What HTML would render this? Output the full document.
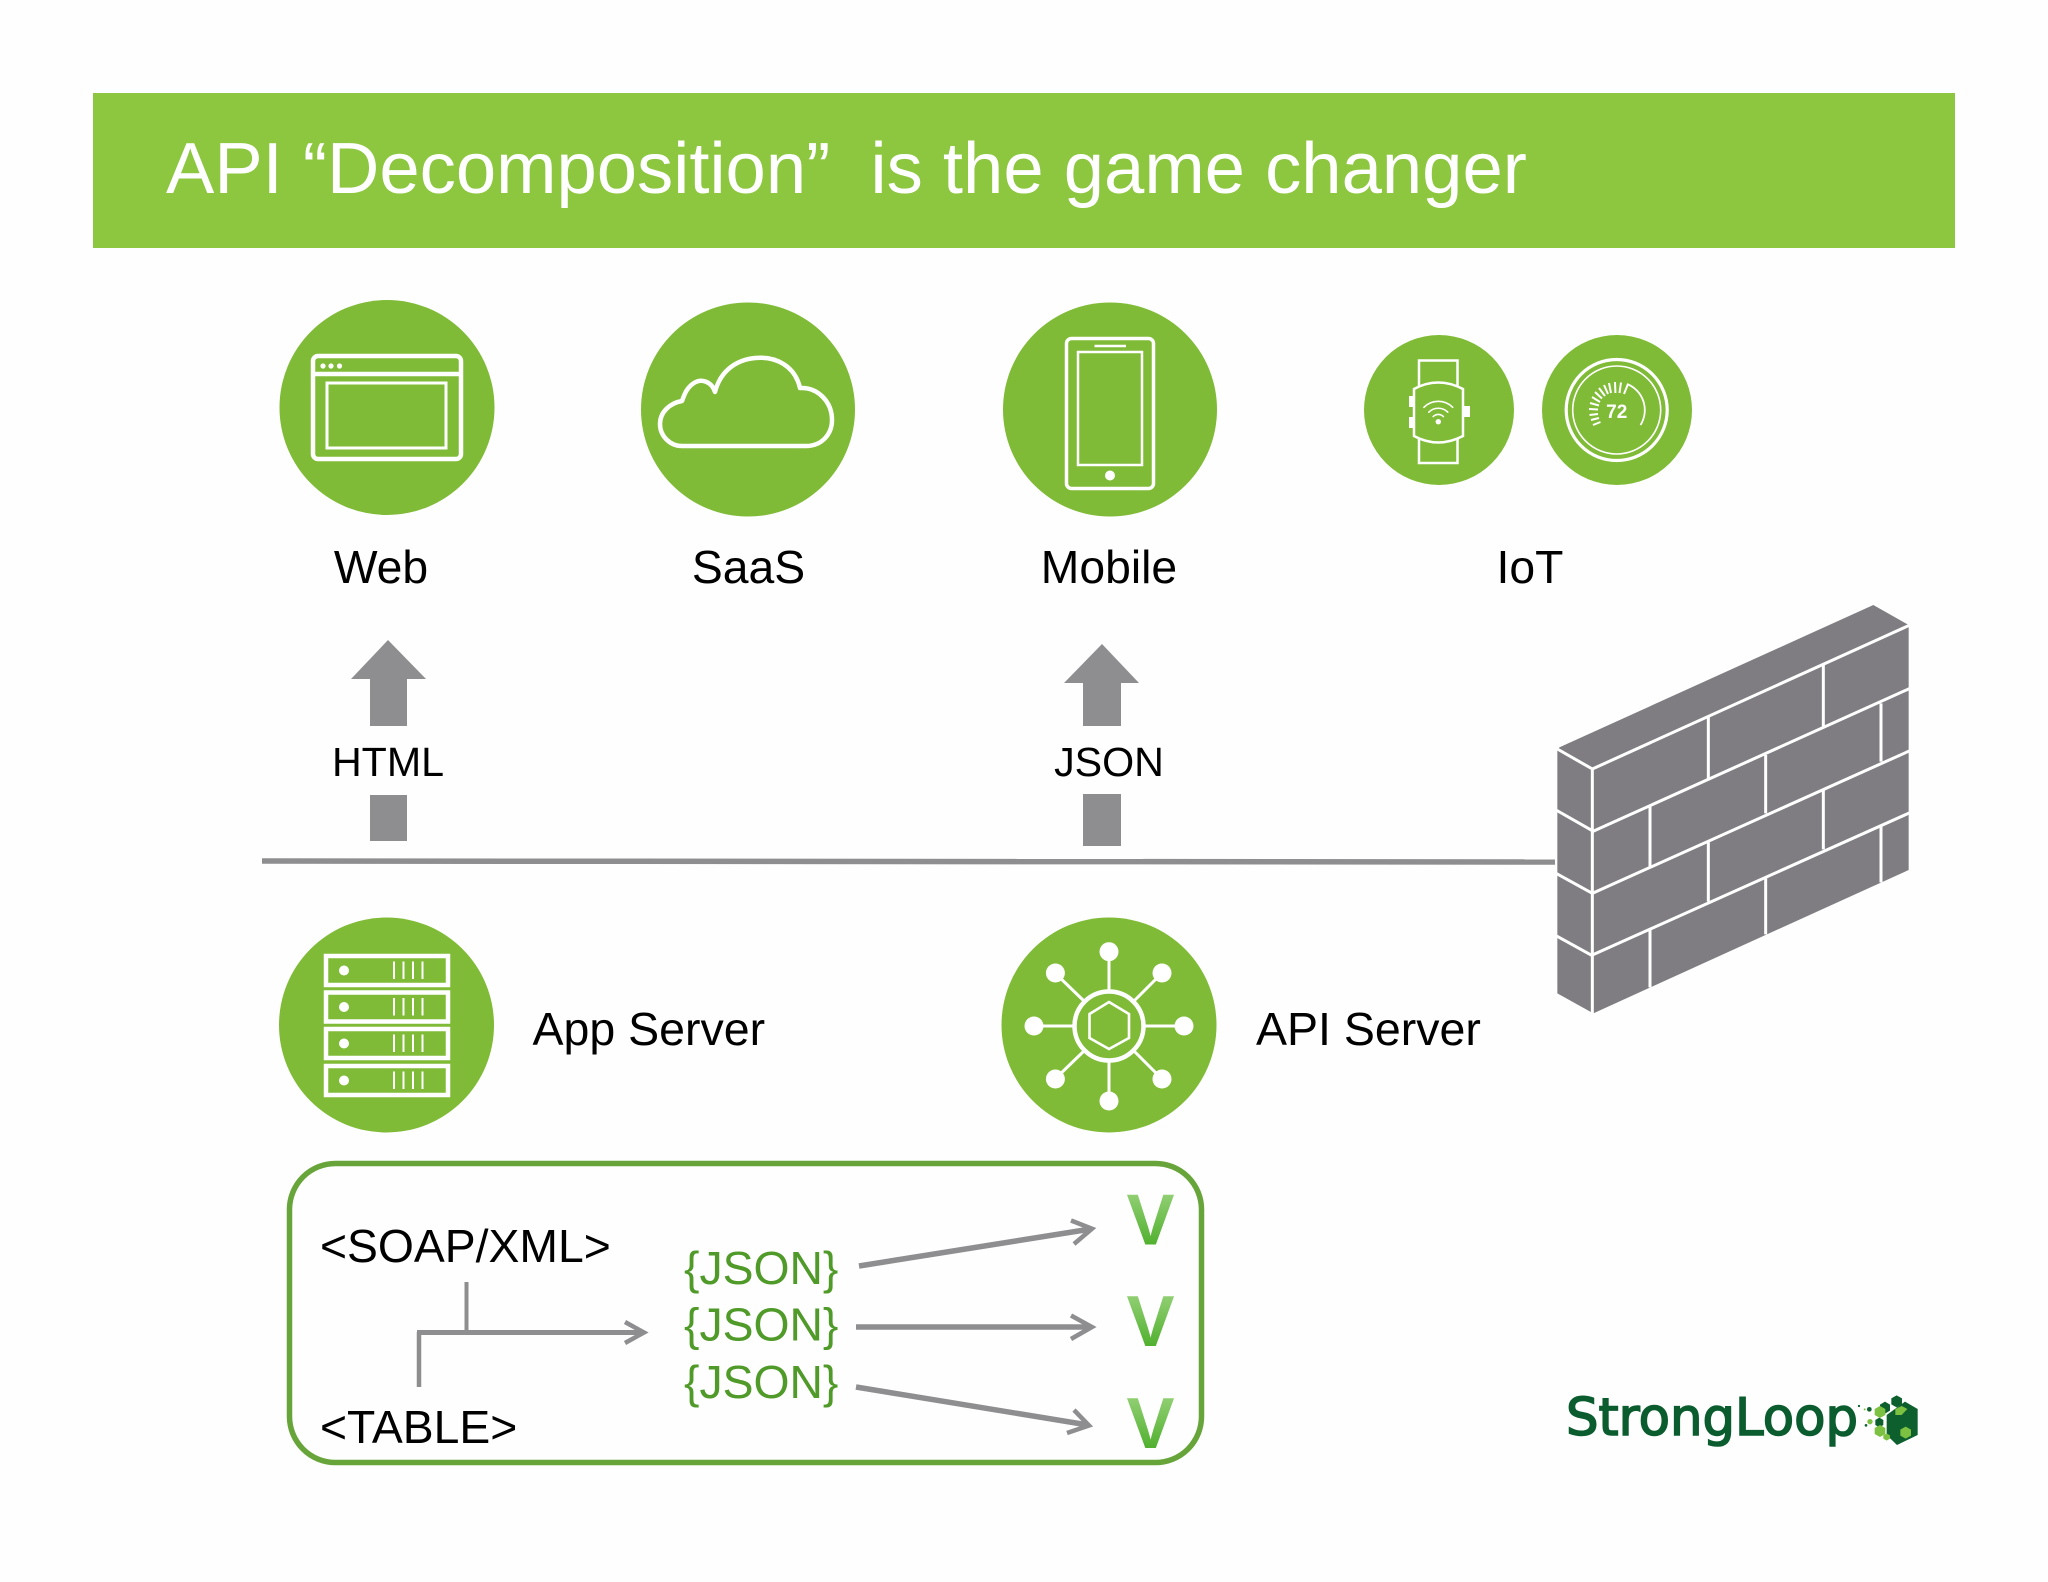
<!DOCTYPE html>
<html lang="en">
<head>
<meta charset="utf-8">
<title>API Decomposition</title>
<style>
html,body{margin:0;padding:0;background:#fefefe;width:2048px;height:1582px;overflow:hidden}
svg{display:block}
text{font-family:"Liberation Sans",Arial,sans-serif;white-space:pre}
</style>
</head>
<body>
<svg xmlns="http://www.w3.org/2000/svg" width="2048" height="1582" viewBox="0 0 2048 1582">
<defs>
<linearGradient id="vg" x1="0" y1="0" x2="0" y2="1">
<stop offset="0.15" stop-color="#93d075"/>
<stop offset="0.85" stop-color="#4cae2a"/>
</linearGradient>
</defs>
<rect width="2048" height="1582" fill="#fefefe"/>

<!-- banner -->
<rect x="93" y="93" width="1862" height="155" fill="#8dc63f"/>
<text x="166" y="193" font-size="72.45" fill="#fff">API “Decomposition”  is the game changer</text>

<!-- top circles -->
<g fill="#7fbb36">
<circle cx="387" cy="407.5" r="107.5"/>
<circle cx="748" cy="409.5" r="107"/>
<circle cx="1110" cy="409.5" r="107"/>
<circle cx="1439" cy="410" r="75"/>
<circle cx="1617" cy="410" r="75"/>
<circle cx="386.5" cy="1025" r="107.5"/>
<circle cx="1109" cy="1025" r="107.5"/>
</g>

<!-- web icon -->
<g fill="none" stroke="#fff" stroke-width="4.5">
<rect x="313" y="356" width="148" height="103" rx="5"/>
<line x1="313" y1="374" x2="461" y2="374"/>
<rect x="327" y="383" width="119" height="65" stroke-width="3"/>
</g>
<g fill="#fff"><circle cx="323" cy="366" r="2.6"/><circle cx="331" cy="366" r="2.6"/><circle cx="339.5" cy="366" r="2.6"/></g>

<!-- cloud -->
<path d="M682 446 H806 C822 446 832 434 832 420 C832 402 818 387 800 388 C795 366 776 356 755 358 C735 360 720 372 715 392 C712 382 702 378 694 383 C686 388 684 396 682 401 C670 403 660 412 660 424 C660 436 670 446 682 446 Z" fill="none" stroke="#fff" stroke-width="4.5" stroke-linejoin="round"/>

<!-- mobile -->
<g fill="none" stroke="#fff">
<rect x="1066.5" y="338.5" width="87" height="150" rx="5" stroke-width="3.5"/>
<rect x="1078" y="352" width="64" height="113" stroke-width="2.5"/>
<line x1="1094.5" y1="346" x2="1126" y2="346" stroke-width="2.5"/>
</g>
<circle cx="1110" cy="475.5" r="5" fill="#fff"/>

<!-- watch -->
<g fill="none" stroke="#fff" stroke-width="2.5">
<rect x="1419" y="360.5" width="38.5" height="102.5"/>
<path d="M1414 389 Q1438 376 1463 389 V436 Q1438 449 1414 436 Z" fill="#7fbb36"/>
</g>
<g fill="#fff">
<rect x="1409" y="396" width="5" height="11"/>
<rect x="1409" y="417" width="5" height="11"/>
<rect x="1463" y="406" width="7" height="11"/>
<circle cx="1438.3" cy="421.7" r="2.7"/>
</g>
<g fill="none" stroke="#fff" stroke-width="1.6" stroke-linecap="round">
<path d="M1423.9 407.3 A20.3 20.3 0 0 1 1452.7 407.3"/>
<path d="M1428.8 412.2 A13.4 13.4 0 0 1 1447.8 412.2"/>
<path d="M1433.2 416.6 A7.2 7.2 0 0 1 1443.4 416.6"/>
</g>

<!-- thermostat -->
<g fill="none" stroke="#fff">
<circle cx="1616.7" cy="410" r="50.5" stroke-width="3.2"/>
<circle cx="1616.7" cy="410" r="44" stroke-width="1.6"/>
<path d="M1640.5 425 A28 28 0 0 0 1627 384" stroke-width="1.8"/>
<g stroke-width="2">
<line x1="1628" y1="384" x2="1624" y2="394"/>
<line x1="1621" y1="382.5" x2="1619.5" y2="393"/>
<line x1="1615" y1="382" x2="1615.4" y2="393"/>
<line x1="1609" y1="383" x2="1611" y2="393"/>
<line x1="1604" y1="385" x2="1608" y2="394"/>
<line x1="1599" y1="388" x2="1605" y2="396"/>
<line x1="1595" y1="392" x2="1602" y2="398.5"/>
<line x1="1592" y1="397" x2="1600" y2="402"/>
<line x1="1590" y1="403" x2="1599" y2="405.5"/>
<line x1="1589" y1="409" x2="1598" y2="409.5"/>
<line x1="1589.5" y1="415" x2="1598" y2="414"/>
<line x1="1591" y1="420" x2="1599" y2="418"/>
<line x1="1593" y1="425" x2="1600.5" y2="422"/>
</g>
</g>
<text x="1616.7" y="418" font-size="19" font-weight="bold" fill="#fff" text-anchor="middle">72</text>

<!-- labels -->
<g font-size="46.3" fill="#000" text-anchor="middle">
<text x="381" y="583">Web</text>
<text x="748.5" y="583">SaaS</text>
<text x="1109" y="583">Mobile</text>
<text x="1530" y="583">IoT</text>
</g>

<!-- arrows up -->
<g fill="#8e8d90">
<path d="M388 640 L426 679 H407 V726 H370 V679 H351 Z"/>
<rect x="370" y="795" width="37" height="46"/>
<path d="M1102 644 L1139 683 H1121 V726 H1083 V683 H1064 Z"/>
<rect x="1083" y="794" width="38" height="52"/>
</g>
<text x="388" y="776" font-size="41.2" fill="#000" text-anchor="middle">HTML</text>
<text x="1109" y="776" font-size="41.2" fill="#000" text-anchor="middle">JSON</text>

<!-- line -->
<line x1="262" y1="861" x2="1555" y2="862" stroke="#8e8d90" stroke-width="5.5"/>

<!-- wall -->
<g transform="translate(1530 590) scale(0.33333)">
<path d="M88 472 L1030 45 L1136 105 V840 L190 1270 L82 1210 V482 Z" fill="#7f7d81"/>
<g fill="none" stroke="#fff" stroke-width="9">
<path d="M82 477 L187 537 V1272"/>
<path d="M187 537 L1140 105"/>
<path d="M187 725 L1140 295"/>
<path d="M187 910 L1140 482"/>
<path d="M187 1095 L1140 668"/>
<path d="M78 660 L187 722"/>
<path d="M78 850 L187 910"/>
<path d="M78 1037 L187 1097"/>
<path d="M535 380 V565 M880 222 V410"/>
<path d="M360 650 V830 M707 495 V670 M1053 340 V515"/>
<path d="M535 757 V935 M880 600 V778"/>
<path d="M360 1020 V1192 M707 865 V1033 M1053 708 V877"/>
</g>
</g>

<!-- app server icon -->
<g fill="none" stroke="#fff" stroke-width="4.5">
<rect x="326" y="956" width="122" height="29"/>
<rect x="326" y="992.5" width="122" height="29"/>
<rect x="326" y="1029" width="122" height="29"/>
<rect x="326" y="1066" width="122" height="29"/>
</g>
<g fill="#fff">
<circle cx="344" cy="970.5" r="5"/><circle cx="344" cy="1007" r="5"/><circle cx="344" cy="1043.5" r="5"/><circle cx="344" cy="1080.5" r="5"/>
</g>
<g stroke="#fff" stroke-width="2">
<path d="M394 961.5 V979 M403.5 961.5 V979 M413 961.5 V979 M422.5 961.5 V979"/>
<path d="M394 998 V1015.5 M403.5 998 V1015.5 M413 998 V1015.5 M422.5 998 V1015.5"/>
<path d="M394 1034.5 V1052 M403.5 1034.5 V1052 M413 1034.5 V1052 M422.5 1034.5 V1052"/>
<path d="M394 1071.5 V1089 M403.5 1071.5 V1089 M413 1071.5 V1089 M422.5 1071.5 V1089"/>
</g>

<!-- api server icon -->
<g stroke="#fff" fill="none">
<circle cx="1109" cy="1026" r="34.5" stroke-width="4.5"/>
<path d="M1109 1002 L1129 1014 V1038 L1109 1049 L1089.5 1038 V1014 Z" stroke-width="2.6"/>
<g stroke-width="3">
<path d="M1109 952 V991 M1109 1061 V1101 M1034 1026 H1074 M1144 1026 H1184"/>
<path d="M1055 973 L1084 1001 M1162 973 L1134 1001 M1055 1079 L1084 1051 M1162 1079 L1134 1051"/>
</g>
</g>
<g fill="#fff">
<circle cx="1109" cy="951.7" r="9.5"/><circle cx="1109" cy="1101" r="9.5"/>
<circle cx="1034" cy="1026" r="9.5"/><circle cx="1184" cy="1026" r="9.5"/>
<circle cx="1055.4" cy="973" r="9.5"/><circle cx="1162" cy="973" r="9.5"/>
<circle cx="1055.4" cy="1079" r="9.5"/><circle cx="1162" cy="1079" r="9.5"/>
</g>

<text x="532.5" y="1045" font-size="46.5" fill="#000">App Server</text>
<text x="1256" y="1045" font-size="46.5" fill="#000">API Server</text>

<!-- box -->
<rect x="289.5" y="1163.5" width="912" height="299" rx="46" fill="none" stroke="#67a53a" stroke-width="5.5"/>
<text x="320" y="1262" font-size="46.3" fill="#000">&lt;SOAP/XML&gt;</text>
<text x="320" y="1443" font-size="46.3" fill="#000">&lt;TABLE&gt;</text>
<g font-size="46.3" fill="#4f9a28">
<text x="684" y="1284">{JSON}</text>
<text x="684" y="1340.5">{JSON}</text>
<text x="684" y="1398">{JSON}</text>
</g>

<!-- connectors -->
<g fill="none" stroke="#8e8d90">
<path d="M466.5 1282 V1332" stroke-width="4"/>
<path d="M419 1387 V1332" stroke-width="4.5"/>
<path d="M417 1332.5 H643" stroke-width="5"/>
<path d="M625 1322 L644 1332.5 L625 1343" stroke-width="4.5"/>
<path d="M859 1266 L1091 1229" stroke-width="5.5"/>
<path d="M1071 1220.5 L1092 1228.7 L1074 1244" stroke-width="4.5"/>
<path d="M856 1327 H1091" stroke-width="5.5"/>
<path d="M1071 1315.5 L1092 1327 L1071 1339" stroke-width="4.5"/>
<path d="M856 1387 L1088 1425" stroke-width="5.5"/>
<path d="M1074 1410 L1089 1425.5 L1067 1433" stroke-width="4.5"/>
</g>

<!-- V marks -->
<g font-size="72" font-weight="bold" fill="url(#vg)" text-anchor="middle">
<text x="1150.5" y="1244.5">V</text>
<text x="1150.5" y="1346">V</text>
<text x="1150.5" y="1448">V</text>
</g>

<!-- logo -->
<text x="1566" y="1435" font-size="52" fill="#0b5c2e" stroke="#0b5c2e" stroke-width="1.6" textLength="292" lengthAdjust="spacingAndGlyphs" style="font-family:'DejaVu Sans',sans-serif">StrongLoop</text>
<g transform="translate(1540 1370) scale(0.33333)">
<g fill="#0e5f2e">
<polygon points="1095,95 1133,117 1133,195 1071,225 1040,195 1040,135"/>
<polygon points="1070,76 1086,85 1086,103 1070,112 1054,103 1054,85"/>
<polygon points="1035,95 1050,104 1050,122 1035,131 1020,122 1020,104"/>
<polygon points="1018,143 1030,150 1030,165 1018,172 1006,165 1006,150"/>
<circle cx="988" cy="118" r="7"/><circle cx="957" cy="108" r="3.5"/><circle cx="978" cy="166" r="4"/>
</g>
<g fill="#7cc142">
<polygon points="1020,108 1036,117 1036,135 1020,144 1004,135 1004,117"/>
<polygon points="1085,108 1102,117 1085,135 1066,135 1066,117"/>
<polygon points="1020,165 1036,174 1036,192 1020,201 1004,192 1004,174"/>
<polygon points="1097,170 1113,179 1113,197 1097,206 1081,197 1081,179"/>
<polygon points="1040,190 1050,196 1050,206 1040,212 1030,206 1030,196"/>
<circle cx="990" cy="155" r="8"/><circle cx="974" cy="118" r="3"/>
</g>
</g>
</svg>
</body>
</html>
